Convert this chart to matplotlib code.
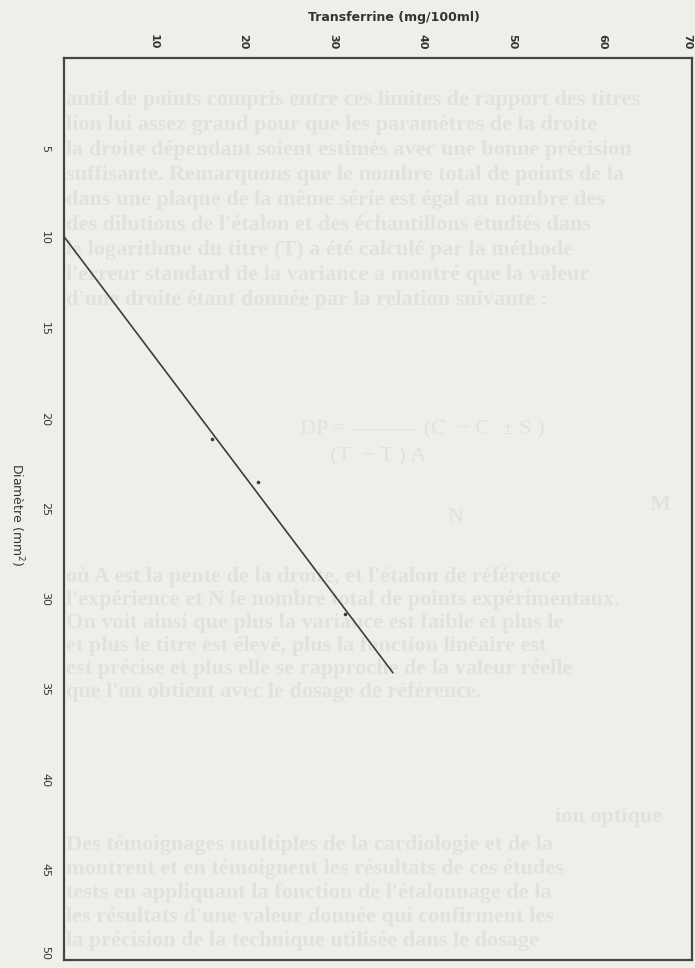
import matplotlib.pyplot as plt

# Dose-response: transferrin concentration vs precipitation ring diameter
transferrine = [16.5, 21.6, 31.3]
diametre = [21.1, 23.5, 30.8]

# fitted regression line end points
fit_x = [0.0, 36.7]
fit_y = [9.9, 34.1]

x_ticks = [10, 20, 30, 40, 50, 60, 70]
y_ticks = [5, 10, 15, 20, 25, 30, 35, 40, 45, 50]

# text printed on the page behind the figure
page_text_top = [
    "antil de points compris entre ces limites de rapport des titres",
    "lion lui assez grand pour que les paramètres de la droite",
    "la droite dépendant soient estimés avec une bonne précision",
    "suffisante. Remarquons que le nombre total de points de la",
    "dans une plaque de la même série est égal au nombre des",
    "des dilutions de l'étalon et des échantillons étudiés dans",
    "le logarithme du titre (T) a été calculé par la méthode",
    "l'erreur standard de la variance a montré que la valeur",
    "d'une droite étant donnée par la relation suivante :",
]
page_text_mid = [
    "où A est la pente de la droite, et l'étalon de référence",
    "l'expérience et N le nombre total de points expérimentaux.",
    "On voit ainsi que plus la variance est faible et plus le",
    "et plus le titre est élevé, plus la fonction linéaire est",
    "est précise et plus elle se rapproche de la valeur réelle",
    "que l'on obtient avec le dosage de référence.",
]
page_text_low = [
    "Des témoignages multiples de la cardiologie et de la",
    "montrent et en témoignent les résultats de ces études",
    "tests en appliquant la fonction de l'étalonnage de la",
    "les résultats d'une valeur donnée qui confirment les",
    "la précision de la technique utilisée dans le dosage",
]

bg = "#efefea"
ink = "#3c3c3c"
ghost = "#e2e2dc"

W, H = 695, 968
fig = plt.figure(figsize=(W / 100, H / 100), dpi=100, facecolor=bg)

# faint print-through of the neighbouring page
def page_block(lines, y0, step, x0=66):
    for i, line in enumerate(lines):
        fig.text(x0 / W, 1 - (y0 + i * step) / H, line, family="Liberation Serif",
                 weight="bold", size=16, color=ghost, va="center", ha="left", zorder=0)

page_block(page_text_top, 100, 25)
page_block(page_text_mid, 577, 23)
page_block(page_text_low, 845, 24)
ghost_kw = dict(family="Liberation Serif", size=16, color=ghost, va="center", zorder=0)
fig.text(555 / W, 1 - 817 / H, "ion optique", weight="bold", **ghost_kw)
fig.text(300 / W, 1 - 430 / H, "DP = ——— (C  − C  ± S )", **ghost_kw)
fig.text(330 / W, 1 - 457 / H, "(T  − T ) A", **ghost_kw)
fig.text(447 / W, 1 - 517 / H, "N", **ghost_kw)
fig.text(650 / W, 1 - 505 / H, "M", weight="bold", **ghost_kw)

ax = fig.add_axes([64 / W, 1 - 960 / H, (692 - 64) / W, (960 - 58) / H], zorder=2)
ax.patch.set_alpha(0)

ax.plot(fit_x, fit_y, color=ink, lw=1.2, solid_capstyle="butt")
ax.plot(transferrine, diametre, "o", color=ink, ms=2.6, mew=0)

ax.set_xlim(0, 70)
ax.set_ylim(50, 0)

ax.xaxis.tick_top()
ax.set_xticks(x_ticks)
ax.set_xticklabels([str(v) for v in x_ticks], rotation=-90, fontsize=8, color="#333333",
                   fontweight="semibold")
ax.get_xticklabels()[-1].set_ha("right")
ax.set_yticks(y_ticks)
ax.set_yticklabels([str(v) for v in y_ticks], rotation=-90, fontsize=8, color="#333333",
                   va="center")
ax.get_yticklabels()[-1].set_va("bottom")
ax.tick_params(axis="both", length=0)
ax.tick_params(axis="x", pad=6)
ax.tick_params(axis="y", pad=10)

for s in ax.spines.values():
    s.set_color("#444444")
    s.set_linewidth(1.6)

fig.text(394 / W, 1 - 18 / H, "Transferrine (mg/100ml)", ha="center", va="center",
         fontsize=9, fontweight="semibold", color="#333333")
fig.text(17 / W, 1 - 515 / H, "Diamètre (mm$^2$)", ha="center", va="center",
         rotation=-90, fontsize=9, color="#333333")

fig.savefig("out.png", dpi=100, facecolor=bg)
